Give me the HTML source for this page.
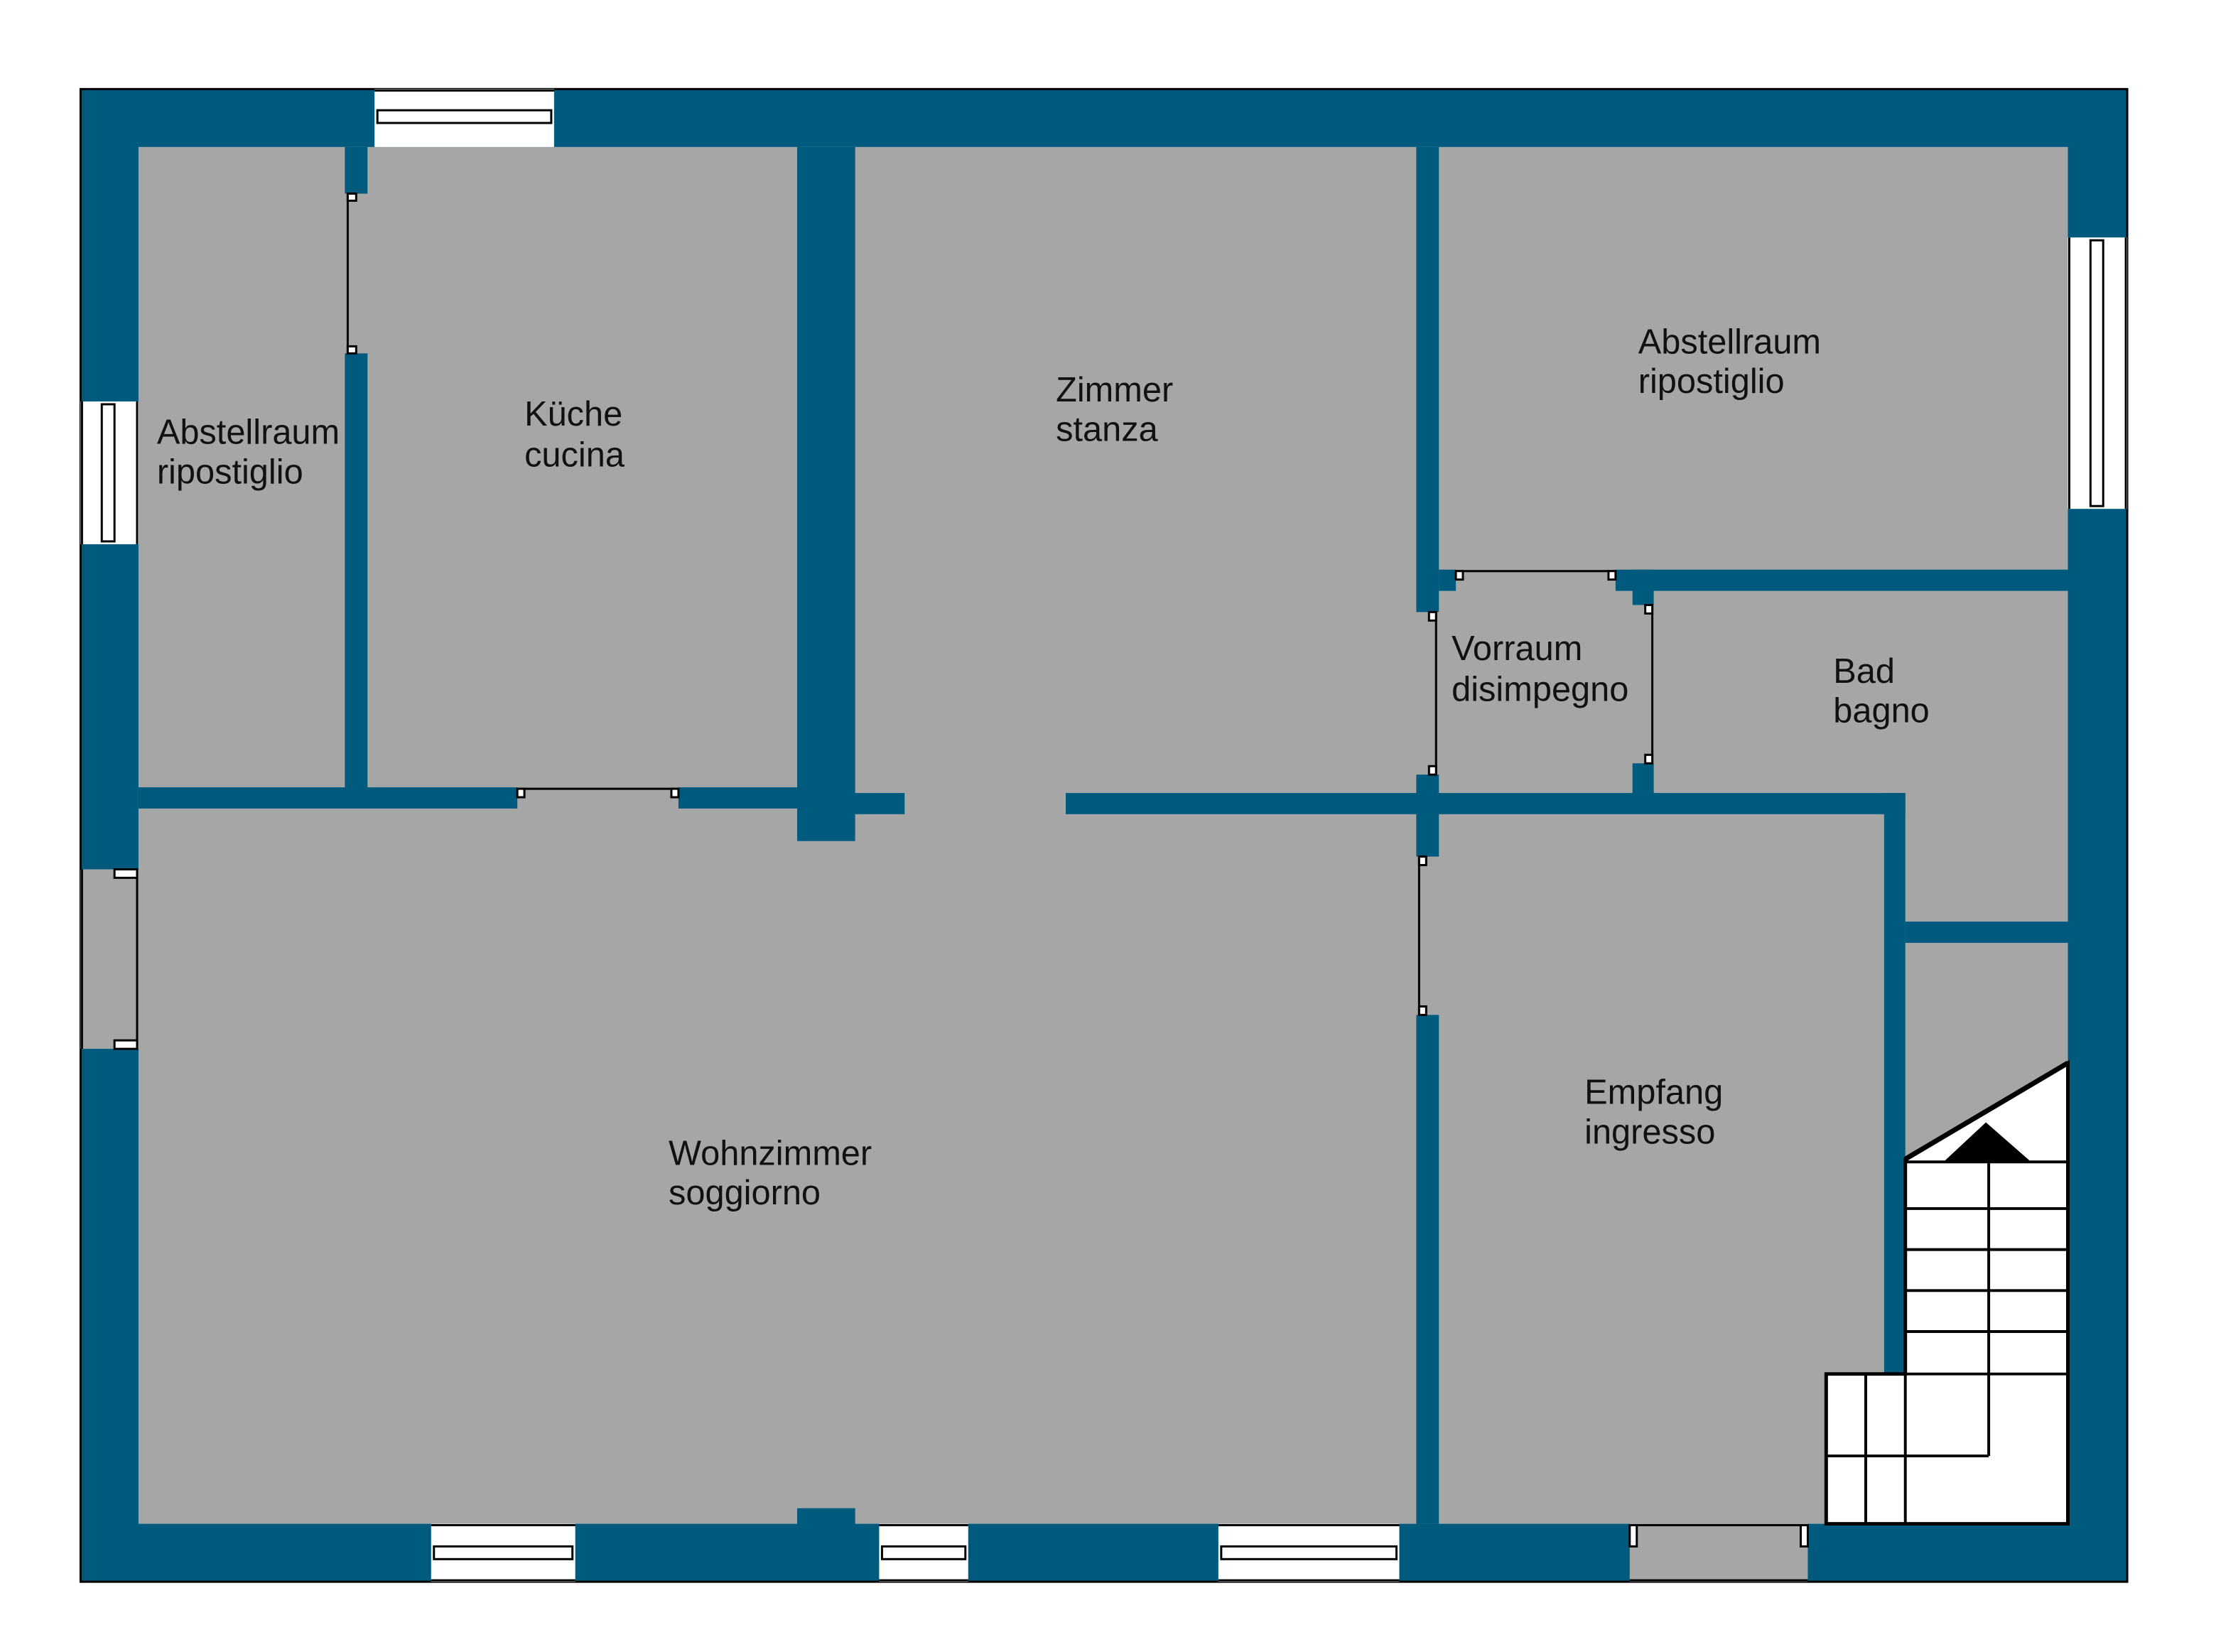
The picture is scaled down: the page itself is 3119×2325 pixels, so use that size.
<!DOCTYPE html>
<html><head><meta charset="utf-8"><style>
html,body{margin:0;padding:0;background:#fff}
svg{display:block}
text{font-family:"Liberation Sans",sans-serif;font-size:24.5px;fill:#111}
</style></head><body>
<svg width="3119" height="2325" viewBox="0 0 1567.8 1168.7" preserveAspectRatio="none" xmlns="http://www.w3.org/2000/svg">
<rect width="1567.8" height="1168.7" fill="#fff"/>
<!-- floor -->
<rect x="98" y="104" width="1365" height="974" fill="#a6a6a6"/>
<!-- outer walls -->
<g fill="#005a7e">
<rect x="57" y="63" width="1448" height="41"/>
<rect x="57" y="1078" width="1448" height="41"/>
<rect x="57" y="63" width="41" height="1056"/>
<rect x="1463" y="63" width="42" height="1056"/>
<rect x="564" y="1067" width="41" height="12"/>
</g>
<rect x="57" y="63" width="1448" height="1056" fill="none" stroke="#000" stroke-width="1.5"/>
<!-- windows -->
<g fill="#fff" stroke="#000" stroke-width="1.5">
<rect x="265" y="63" width="127" height="41" stroke="none"/>
<line x1="265" y1="64" x2="392" y2="64"/>
<rect x="267" y="78" width="123" height="9"/>
<rect x="1463" y="168" width="42" height="192" stroke="none"/>
<line x1="1504" y1="168" x2="1504" y2="360"/>
<line x1="1464" y1="168" x2="1464" y2="360"/>
<rect x="1479" y="170" width="9" height="188"/>
<rect x="57" y="284" width="41" height="101" stroke="none"/>
<line x1="58" y1="284" x2="58" y2="385"/>
<line x1="97" y1="284" x2="97" y2="385"/>
<rect x="72" y="286" width="9" height="97"/>
<rect x="305" y="1078" width="102" height="41" stroke="none"/>
<line x1="305" y1="1118" x2="407" y2="1118"/><line x1="305" y1="1079" x2="407" y2="1079"/>
<rect x="307" y="1094" width="98" height="9"/>
<rect x="622" y="1078" width="63" height="41" stroke="none"/>
<line x1="622" y1="1118" x2="685" y2="1118"/><line x1="622" y1="1079" x2="685" y2="1079"/>
<rect x="624" y="1094" width="59" height="9"/>
<rect x="862" y="1078" width="128" height="41" stroke="none"/>
<line x1="862" y1="1118" x2="990" y2="1118"/><line x1="862" y1="1079" x2="990" y2="1079"/>
<rect x="864" y="1094" width="124" height="9"/>
</g>
<!-- door openings in outer wall -->
<rect x="57" y="615" width="41" height="127" fill="#a6a6a6"/>
<rect x="1153" y="1078" width="126" height="41" fill="#a6a6a6"/>
<g fill="none" stroke="#000" stroke-width="1.5">
<line x1="58" y1="615" x2="58" y2="742"/>
<line x1="97" y1="615" x2="97" y2="742"/>
<rect x="81" y="615" width="16" height="6" fill="#fff"/>
<rect x="81" y="736" width="16" height="6" fill="#fff"/>
<line x1="1153" y1="1118" x2="1279" y2="1118"/>
<line x1="1153" y1="1079" x2="1279" y2="1079"/>
<rect x="1153" y="1079" width="5" height="15" fill="#fff"/>
<rect x="1274" y="1079" width="5" height="15" fill="#fff"/>
</g>
<!-- interior walls -->
<g fill="#005a7e">
<rect x="244" y="104" width="16" height="33"/>
<rect x="244" y="250" width="16" height="308"/>
<rect x="98" y="557" width="268" height="15"/>
<rect x="480" y="557" width="100" height="15"/>
<rect x="564" y="104" width="41" height="491"/>
<rect x="600" y="561" width="40" height="15"/>
<rect x="754" y="561" width="594" height="15"/>
<rect x="1333" y="561" width="15" height="411"/>
<rect x="1002" y="104" width="16" height="329"/>
<rect x="1002" y="548" width="16" height="58"/>
<rect x="1002" y="718" width="16" height="360"/>
<rect x="1018" y="403" width="12" height="15"/>
<rect x="1143" y="403" width="320" height="15"/>
<rect x="1155" y="403" width="15" height="25"/>
<rect x="1155" y="540" width="15" height="21"/>
<rect x="1348" y="652" width="115" height="15"/>
</g>
<!-- interior doors -->
<g fill="#fff" stroke="#000" stroke-width="1.5">
<line x1="246" y1="137" x2="246" y2="250"/>
<rect x="246" y="137" width="6" height="5"/><rect x="246" y="245" width="6" height="5"/>
<line x1="366" y1="558" x2="480" y2="558"/>
<rect x="366" y="558" width="5" height="6"/><rect x="475" y="558" width="5" height="6"/>
<line x1="1016" y1="433" x2="1016" y2="548"/>
<rect x="1011" y="433" width="5" height="6"/><rect x="1011" y="542" width="5" height="6"/>
<line x1="1004" y1="606" x2="1004" y2="718"/>
<rect x="1004" y="606" width="5" height="6"/><rect x="1004" y="712" width="5" height="6"/>
<line x1="1030" y1="404" x2="1143" y2="404"/>
<rect x="1030" y="404" width="5" height="6"/><rect x="1138" y="404" width="5" height="6"/>
<line x1="1169" y1="428" x2="1169" y2="540"/>
<rect x="1164" y="428" width="5" height="6"/><rect x="1164" y="534" width="5" height="6"/>
</g>
<!-- stairs -->
<polygon points="1348,820 1463,752 1463,1078 1292,1078 1292,972 1348,972" fill="#fff" stroke="#000" stroke-width="2.5"/>
<g stroke="#000" stroke-width="2" fill="none">
<line x1="1348" y1="822" x2="1463" y2="822"/>
<line x1="1348" y1="855" x2="1463" y2="855"/>
<line x1="1348" y1="884" x2="1463" y2="884"/>
<line x1="1348" y1="913" x2="1463" y2="913"/>
<line x1="1348" y1="942" x2="1463" y2="942"/>
<line x1="1292" y1="972" x2="1463" y2="972"/>
<line x1="1292" y1="1030" x2="1407" y2="1030"/>
<line x1="1407" y1="800" x2="1407" y2="1030"/>
<line x1="1320" y1="972" x2="1320" y2="1078"/>
<line x1="1348" y1="972" x2="1348" y2="1078"/>
<line x1="1348" y1="820" x2="1463" y2="752" stroke-width="3.5"/>
</g>
<polygon points="1375,822 1405,794 1437,822" fill="#000"/>
<!-- labels -->
<text x="111" y="314">Abstellraum</text><text x="111" y="342">ripostiglio</text>
<text x="371" y="301">Küche</text><text x="371" y="330">cucina</text>
<text x="747" y="284">Zimmer</text><text x="747" y="312">stanza</text>
<text x="1159" y="250">Abstellraum</text><text x="1159" y="278">ripostiglio</text>
<text x="1027" y="467">Vorraum</text><text x="1027" y="496">disimpegno</text>
<text x="1297" y="483">Bad</text><text x="1297" y="511">bagno</text>
<text x="1121" y="781">Empfang</text><text x="1121" y="809">ingresso</text>
<text x="473" y="824">Wohnzimmer</text><text x="473" y="852">soggiorno</text>
</svg>
</body></html>
